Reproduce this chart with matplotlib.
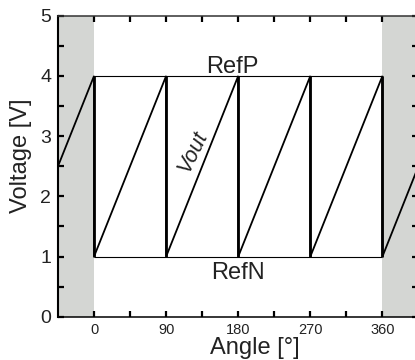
import matplotlib
matplotlib.use("Agg")
import matplotlib.pyplot as plt
import numpy as np

plt.rcParams["font.family"] = ["Liberation Sans", "DejaVu Sans"]

# Sawtooth output voltage vs. rotor angle
angle_deg = [-45, 0, 0, 90, 90, 180, 180, 270, 270, 360, 360, 404]
vout_v = [2.5, 4.0, 1.0, 4.0, 1.0, 4.0, 1.0, 4.0, 1.0, 4.0, 1.0, 2.47]
reset_angles = [0, 90, 180, 270, 360]

ref_p = 4.0
ref_n = 1.0
ref_span = [0, 360]

shaded_left = (-45, 0)
shaded_right = (360, 404)

x_ticks = [0, 90, 180, 270, 360]
x_tick_labels = ["0", "90", "180", "270", "360"]
y_ticks = [0, 1, 2, 3, 4, 5]
y_tick_labels = ["0", "1", "2", "3", "4", "5"]

fig = plt.figure(figsize=(4.15, 3.6), dpi=100)
ax = fig.add_axes([58 / 415, (360 - 316.7) / 360, 359.7 / 415, (316.7 - 15.7) / 360])

gray = "#d4d6d3"
ax.axvspan(*shaded_left, color=gray, lw=0, zorder=0)
ax.axvspan(*shaded_right, color=gray, lw=0, zorder=0)

ax.hlines([ref_p, ref_n], ref_span[0], ref_span[1], color="black", lw=0.8, zorder=2)

ax.plot(angle_deg, vout_v, color="black", lw=1.3, zorder=3, solid_joinstyle="miter")
ax.vlines(reset_angles, ref_n, ref_p, color="black", lw=2.0, zorder=4)

ax.set_xlim(-45, 404)
ax.set_ylim(0, 5)

ax.set_xticks(x_ticks)
ax.set_xticklabels(x_tick_labels, fontsize=10.5)
ax.set_xticks([45, 135, 225, 315], minor=True)
ax.set_yticks(y_ticks)
ax.set_yticklabels(y_tick_labels, fontsize=14)
ax.set_yticks(np.arange(0.5, 5, 1.0), minor=True)

ax.tick_params(which="both", direction="in", top=True, right=True,
               length=4.3, width=1.6, color="black")
ax.tick_params(axis="x", which="major", pad=4.5, labelcolor="#222222")
ax.tick_params(axis="y", which="major", pad=5, labelcolor="#222222")

ax.spines["left"].set_linewidth(1.5)
ax.spines["bottom"].set_linewidth(1.1)
ax.spines["top"].set_linewidth(1.1)
ax.spines["top"].set_color("#333333")
ax.spines["right"].set_visible(False)

ax.text(173, 4.045, "RefP", fontsize=17, ha="center", va="baseline", color="#222222")
ax.text(180, 0.628, "RefN", fontsize=17, ha="center", va="baseline", color="#222222")
ax.text(123.5, 2.74, "Vout", fontsize=15.5, style="italic", rotation=64,
        ha="center", va="center", rotation_mode="anchor", color="#222222")

ax.set_xlabel("Angle [°]", fontsize=17, color="#222222")
ax.xaxis.label.set_va("baseline")
ax.xaxis.set_label_coords(0.546, -0.124)

fig.text(21.5 / 415, 1 - 156 / 360, "Voltage [V]", rotation=90, fontsize=17,
         ha="center", va="center", color="#222222")

fig.savefig("out.png", dpi=100)
